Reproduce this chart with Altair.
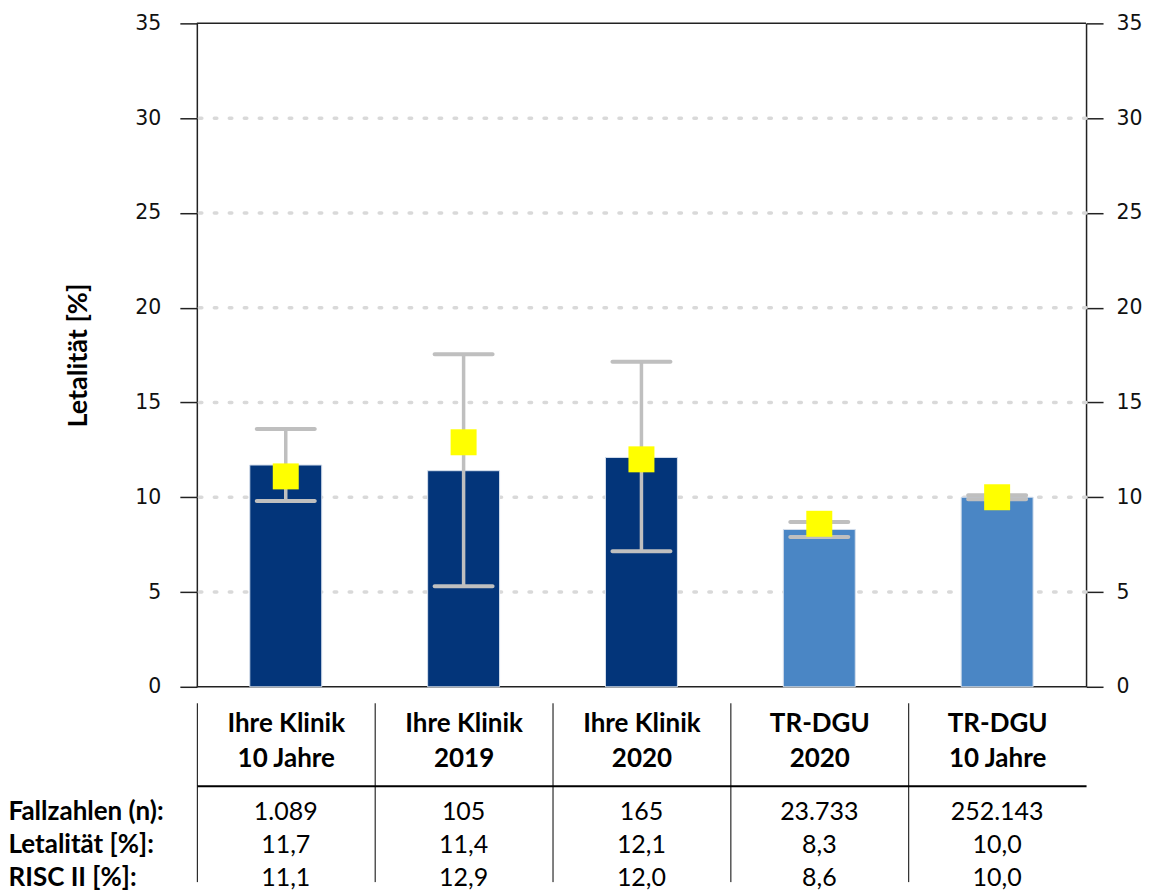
import altair as alt
import pandas as pd

# ---- data ----
categories = ["Ihre Klinik|10 Jahre", "Ihre Klinik|2019", "Ihre Klinik|2020",
              "TR-DGU|2020", "TR-DGU|10 Jahre"]
groups = ["Klinik", "Klinik", "Klinik", "TR-DGU", "TR-DGU"]
letalitaet = [11.7, 11.4, 12.1, 8.3, 10.0]
risc2 = [11.1, 12.9, 12.0, 8.6, 10.0]
ci_low = [9.8, 5.3, 7.15, 7.9, 9.9]
ci_high = [13.6, 17.55, 17.15, 8.7, 10.1]

row_labels = ["Fallzahlen (n):", "Letalität [%]:", "RISC II [%]:"]
fallzahlen_txt = ["1.089", "105", "165", "23.733", "252.143"]
letalitaet_txt = ["11,7", "11,4", "12,1", "8,3", "10,0"]
risc2_txt = ["11,1", "12,9", "12,0", "8,6", "10,0"]

y_ticks = [0, 5, 10, 15, 20, 25, 30, 35]
grid_values = [5, 10, 15, 20, 25, 30]
frame_values = [0, 35]

# ---- tables ----
df = pd.DataFrame({"cat": categories, "group": groups, "letal": letalitaet,
                   "risc": risc2, "lo": ci_low, "hi": ci_high})
df_grid = pd.DataFrame({"v": grid_values})
df_frame = pd.DataFrame({"v": frame_values})
rows = []
for lab, vals in zip(row_labels, [fallzahlen_txt, letalitaet_txt, risc2_txt]):
    for c, v in zip(categories, vals):
        rows.append({"row": lab, "cat": c, "val": v})
df_table = pd.DataFrame(rows)

TXT_FONT = "Lato"
NUM_FONT = "DejaVu Sans"
W = 890
GRAY = "#BFBFBF"

xscale = alt.Scale(domain=categories, paddingInner=0, paddingOuter=0)
yscale = alt.Scale(domain=[0, 35], nice=False, zero=True)
x_top = alt.X("cat:N", sort=categories, scale=xscale, axis=None)

grid = alt.Chart(df_grid).mark_rule(
    color="#D9D9D9", strokeWidth=3.5, strokeDash=[2.5, 12.5], strokeCap="round"
).encode(
    y=alt.Y("v:Q", scale=yscale, axis=alt.Axis(
        orient="right", values=y_ticks, title=None, grid=False,
        domainColor="#222222", domainWidth=1.5, tickColor="#222222",
        tickWidth=1.5, tickSize=17, labelPadding=13, labelFont=NUM_FONT,
        labelFontSize=20.5, labelColor="#111111"))
)

frame = alt.Chart(df_frame).mark_rule(color="#222222", strokeWidth=1.5).encode(
    y=alt.Y("v:Q", scale=yscale, axis=None)
)

bars = alt.Chart(df).mark_bar(width=72, stroke="#D5DFEC", strokeWidth=1).encode(
    x=x_top,
    y=alt.Y("letal:Q", scale=yscale, axis=alt.Axis(
        orient="left", values=y_ticks, title="Letalität [%]", grid=False,
        domainColor="#222222", domainWidth=1.5, tickColor="#222222",
        tickWidth=1.5, tickSize=17, labelPadding=19, labelFont=NUM_FONT,
        labelFontSize=20.5, labelColor="#111111", titleFont=TXT_FONT,
        titleFontSize=27, titleFontWeight="bold", titleColor="black",
        titlePadding=42)),
    color=alt.Color("group:N", scale=alt.Scale(domain=["Klinik", "TR-DGU"],
                    range=["#03357A", "#4A86C5"]), legend=None),
)

err = alt.Chart(df).mark_rule(color=GRAY, strokeWidth=3.5).encode(
    x=x_top,
    y=alt.Y("lo:Q", scale=yscale, axis=None),
    y2="hi:Q",
)
cap_lo = alt.Chart(df).mark_tick(color=GRAY, size=62, thickness=4,
                                 cornerRadius=2, opacity=1).encode(
    x=x_top, y=alt.Y("lo:Q", scale=yscale, axis=None))
cap_hi = alt.Chart(df).mark_tick(color=GRAY, size=62, thickness=4,
                                 cornerRadius=2, opacity=1).encode(
    x=x_top, y=alt.Y("hi:Q", scale=yscale, axis=None))

squares = alt.Chart(df).mark_square(size=676, color="#FFFF00", opacity=1,
                                    filled=True).encode(
    x=x_top, y=alt.Y("risc:Q", scale=yscale, axis=None))

top = alt.layer(grid, frame, bars, err, cap_lo, cap_hi, squares).resolve_axis(
    y="independent").properties(width=W, height=664)

table = alt.Chart(df_table).mark_text(
    font=TXT_FONT, fontSize=25, color="black", baseline="middle"
).encode(
    x=alt.X("cat:N", sort=categories, scale=xscale, axis=alt.Axis(
        orient="top", title=None, tickOffset=-89, labelOffset=89,
        labelExpr="split(datum.label, '|')", labelFont=TXT_FONT,
        labelFontSize=26, labelFontWeight="bold", labelColor="black",
        labelLineHeight=35, labelPadding=-34, labelAngle=0,
        tickSize=83, tickColor="black", tickWidth=1,
        domainColor="black", domainWidth=2,
        grid=True, gridColor="black", gridWidth=1)),
    y=alt.Y("row:N", sort=row_labels,
            scale=alt.Scale(type="point", padding=0.4545, align=0.87),
            axis=alt.Axis(orient="left", title=None, domain=False, ticks=False,
                          tickSize=0, labelAlign="left", labelPadding=189,
                          labelFont=TXT_FONT, labelFontSize=26,
                          labelFontWeight="bold", labelColor="black")),
    text="val:N",
).properties(width=W, height=96)

chart = alt.vconcat(top, table, spacing=4).properties(
    padding={"left": 0, "top": 5, "right": 5, "bottom": 0}
).configure_view(stroke=None)

chart.save("out.html", embed_options={"renderer": "svg", "actions": False})
